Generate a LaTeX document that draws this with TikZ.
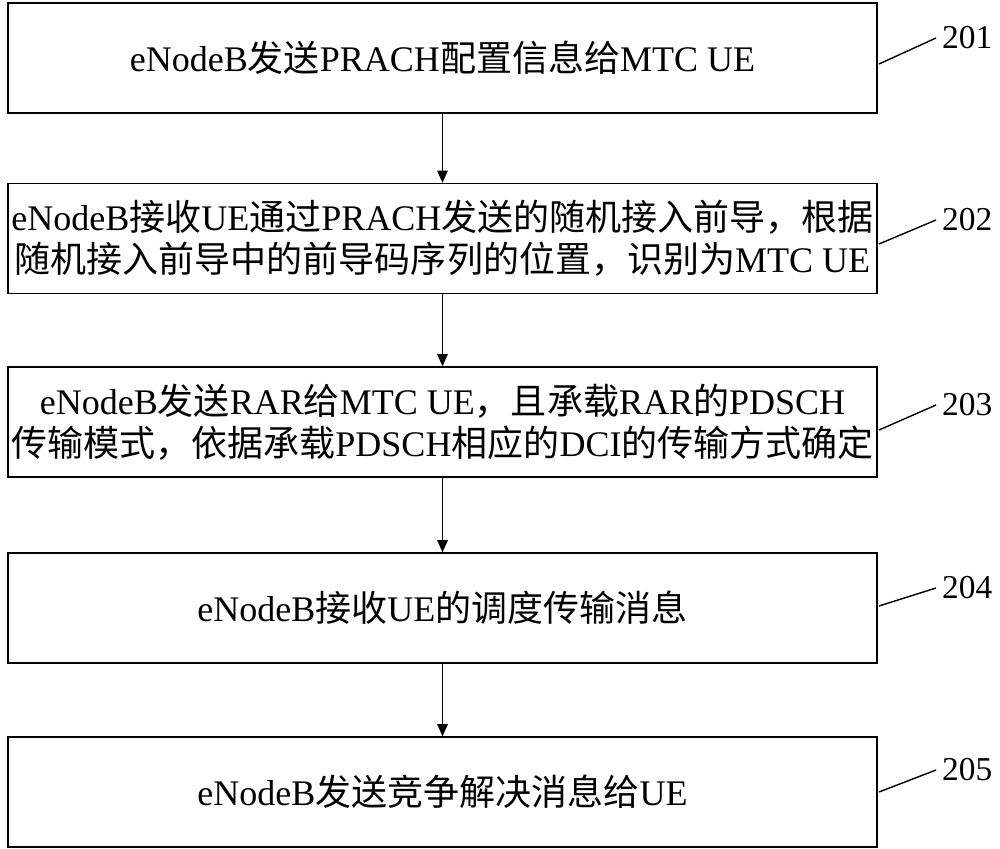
\documentclass[tikz,border=0pt]{standalone}
\usepackage{fontspec}
\setmainfont{Liberation Serif}
\newfontfamily\cjk{Noto Sans CJK SC}
\newcommand{\zh}[1]{{\cjk #1}}
\usetikzlibrary{arrows.meta}
\tikzset{
  stepbox/.style={draw, thick, minimum width=17.38cm, minimum height=2.2cm, align=center, font=\fontsize{20.5}{24}\selectfont, inner sep=0pt},
  flow/.style={thick,-{Triangle[length=7pt,width=6pt]}},
  tag/.style={font=\fontsize{19}{20}\selectfont, anchor=west}
}
\begin{document}
\begin{tikzpicture}[x=0.02cm,y=-0.02cm]
        \useasboundingbox (0,0) rectangle (1000,848);

        \node[stepbox] (s1) at (442.5,58) {eNodeB\zh{发送}PRACH\zh{配置信息给}MTC UE};
        \node[stepbox] (s2) at (442.5,238.5) {eNodeB\zh{接收}UE\zh{通过}PRACH\zh{发送的随机接入前导，根据}\\\zh{随机接入前导中的前导码序列的位置，识别为}MTC UE};
        \node[stepbox] (s3) at (442.5,422) {eNodeB\zh{发送}RAR\zh{给}MTC UE\zh{，且承载}RAR\zh{的}PDSCH\\\zh{传输模式，依据承载}PDSCH\zh{相应的}DCI\zh{的传输方式确定}};
        \node[stepbox] (s4) at (442.5,608) {eNodeB\zh{接收}UE\zh{的调度传输消息}};
        \node[stepbox] (s5) at (442.5,792) {eNodeB\zh{发送竞争解决消息给}UE};

        \draw[flow] (s1) -- (s2);
        \draw[flow] (s2) -- (s3);
        \draw[flow] (s3) -- (s4);
        \draw[flow] (s4) -- (s5);

        % step numbers
        \node[tag] (n1) at (936,38) {201};
        \node[tag] (n2) at (936,220) {202};
        \node[tag] (n3) at (936,405) {203};
        \node[tag] (n4) at (936,588) {204};
        \node[tag] (n5) at (936,770) {205};
        \draw[thick] (879,64) -- (n1.west);
        \draw[thick] (879,244) -- (n2.west);
        \draw[thick] (879,430) -- (n3.west);
        \draw[thick] (879,606) -- (n4.west);
        \draw[thick] (879,792) -- (n5.west);

\end{tikzpicture}
\end{document}
